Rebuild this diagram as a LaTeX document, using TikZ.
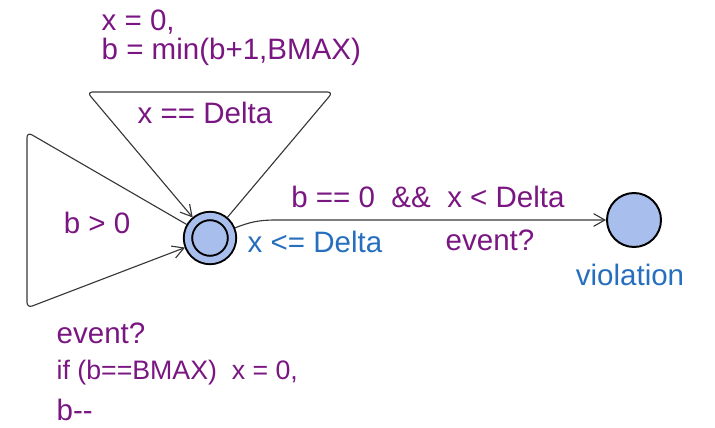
\documentclass[tikz,border=0pt]{standalone}
\usepackage{fontspec}
\setmainfont{Liberation Sans}
\usetikzlibrary{arrows.meta,positioning}
\definecolor{cLoc}  {RGB}{168,190,236}
\definecolor{cGuard}{RGB}{122,22,130}
\definecolor{cInv}  {RGB}{38,110,190}
\definecolor{cEdge} {RGB}{55,55,55}

\begin{document}
\begin{tikzpicture}[
    font=\fontsize{21}{25}\selectfont,
    loc/.style={circle, draw=black, fill=cLoc, line width=1.4pt,
                minimum size=1.35cm, inner sep=0pt},
    % initial location: a second ring inside the first one
    initloc/.style={loc, minimum size=1.1cm, double=cLoc,
                    double distance=4.5pt, outer sep=0.12cm},
    edge/.style={draw=cEdge, line width=0.8pt, rounded corners=4pt,
                 -{Straight Barb[length=8pt,width=9pt]}},
    guard/.style={text=cGuard, inner sep=1pt},
    inv/.style={text=cInv, inner sep=1pt},
]
\useasboundingbox (0,0) rectangle (17.875,10.675);

% --- Locations
\node[initloc] (init) at (5.25,4.725) {};
\node[loc] (violation) at (15.85,5.175) {};

% --- Corners of the two self-loops
\coordinate (topl) at (2.175,8.375);
\coordinate (topr) at (8.325,8.375);
\coordinate (lefttop) at (0.675,7.375);
\coordinate (leftbot) at (0.675,2.975);
\coordinate (bend) at (6.9,5.175);

% --- Edges
\draw[edge] (init) -- (topr) -- (topl) -- (init);
\draw[edge] (init) -- (lefttop) -- (leftbot) -- (init);
\draw[edge, rounded corners=0pt] (init) to[out=22,in=180] (bend) -- (violation);

% --- Labels
\node[guard, anchor=west] (resettop) at (2.5,10.125) {x = 0,};
\node[guard, anchor=west] (bmin) at (2.5,9.375) {b = min(b+1,BMAX)};
\node[guard] (eqdelta) at (5.125,7.85) {x == Delta};
\node[guard] (bpos) at (2.425,5.1) {b > 0};
\node[inv] (invinit) at (7.875,4.625) {x <= Delta};
\node[guard] (gviol) at (10.7,5.75) {b == 0~~\&\&~~x < Delta};
\node[guard] (syncviol) at (12.25,4.675) {event?};
\node[inv] (lviol) at (15.75,3.8) {violation};
\node[guard, anchor=west] (syncleft) at (1.375,2.35) {event?};
\node[guard, anchor=west, font=\fontsize{19}{23}\selectfont] (ifline) at (1.375,1.35)
    {if (b==BMAX)~~x = 0,};
\node[guard, anchor=west] (bdec) at (1.375,0.42) {b-{}-};
\end{tikzpicture}
\end{document}
